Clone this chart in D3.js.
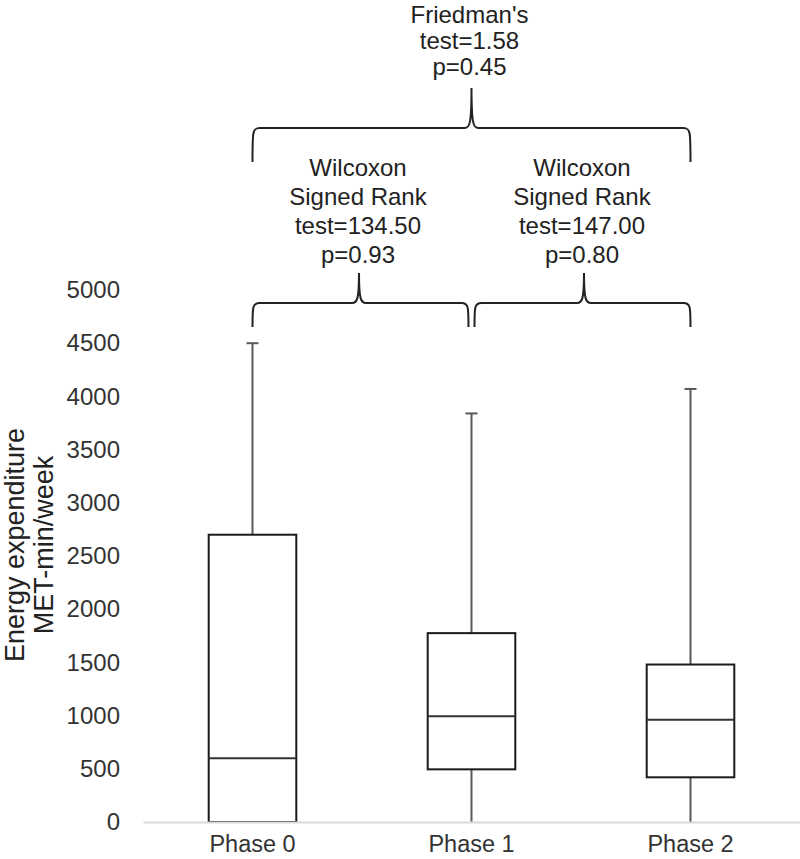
<!DOCTYPE html>
<html>
<head>
<meta charset="utf-8">
<script src="https://cdn.jsdelivr.net/npm/d3@7"></script>
<style>
  html, body { margin: 0; padding: 0; background: #fff; }
  svg { display: block; font-family: "Liberation Sans", Arial, sans-serif; }
</style>
</head>
<body>
<svg id="chart" width="800" height="859"></svg>
<script>
// ---- data ----
const categories = ["Phase 0", "Phase 1", "Phase 2"];
const whiskerLow = [0, 0, 0];
const q1 = [0, 495, 420];
const median = [600, 995, 960];
const q3 = [2700, 1775, 1480];
const whiskerHigh = [4500, 3840, 4070];
const yTicks = [0, 500, 1000, 1500, 2000, 2500, 3000, 3500, 4000, 4500, 5000];
const yTitle = ["Energy expenditure", "MET-min/week"];
const overallTest = ["Friedman's", "test=1.58", "p=0.45"];
const pairTests = [
  ["Wilcoxon", "Signed Rank", "test=134.50", "p=0.93"],
  ["Wilcoxon", "Signed Rank", "test=147.00", "p=0.80"]
];

// ---- layout ----
const svg = d3.select("#chart");
const plotLeft = 143, plotRight = 800, yBottom = 822, yTop = 290;

const x = d3.scaleBand().domain(categories).range([plotLeft, plotRight]).paddingInner(0).paddingOuter(0);
const y = d3.scaleLinear().domain([0, 5000]).range([yBottom, yTop]);
const boxW = x.bandwidth() * 0.4;
const cx = c => x(c) + x.bandwidth() / 2;

// y tick labels (no axis line)
const yAxis = d3.axisLeft(y).tickValues(yTicks).tickSize(0).tickPadding(0).tickFormat(d3.format("d"));
const yg = svg.append("g").attr("transform", `translate(120,0)`).call(yAxis);
yg.select(".domain").remove();
yg.selectAll("text").attr("font-size", 24).attr("fill", "#333")
  .attr("font-family", "Liberation Sans, Arial, sans-serif");

// y title
const yt = svg.append("text").attr("transform", "translate(2,545) rotate(-90)")
  .attr("text-anchor", "middle").attr("font-size", 27).attr("fill", "#222");
yTitle.forEach((t, i) => yt.append("tspan").attr("x", 0).attr("y", 22 + i * 29).text(t));

// boxes
const boxes = svg.append("g");
categories.forEach((c, i) => {
  const xc = cx(c);
  const g = boxes.append("g");
  g.append("line").attr("x1", xc).attr("x2", xc).attr("y1", y(q3[i])).attr("y2", y(whiskerHigh[i]))
    .attr("stroke", "#595959").attr("stroke-width", 2);
  g.append("line").attr("x1", xc).attr("x2", xc).attr("y1", y(q1[i])).attr("y2", y(whiskerLow[i]))
    .attr("stroke", "#595959").attr("stroke-width", 2);
  g.append("line").attr("x1", xc - 6).attr("x2", xc + 6).attr("y1", y(whiskerHigh[i])).attr("y2", y(whiskerHigh[i]))
    .attr("stroke", "#595959").attr("stroke-width", 2);
  g.append("rect").attr("x", xc - boxW / 2).attr("width", boxW)
    .attr("y", y(q3[i])).attr("height", y(q1[i]) - y(q3[i]))
    .attr("fill", "none").attr("stroke", "#1a1a1a").attr("stroke-width", 2);
  g.append("line").attr("x1", xc - boxW / 2).attr("x2", xc + boxW / 2)
    .attr("y1", y(median[i])).attr("y2", y(median[i]))
    .attr("stroke", "#333").attr("stroke-width", 2);
});

// x axis line + labels (drawn over the boxes)
const xAxis = d3.axisBottom(x).tickSize(0).tickPadding(0);
const xg = svg.append("g").attr("transform", `translate(0,${yBottom})`).call(xAxis);
xg.select(".domain").attr("stroke", "#d9d9d9").attr("stroke-width", 2);
xg.selectAll("text").attr("font-size", 23.5).attr("fill", "#333")
  .attr("dy", 0).attr("y", 30)
  .attr("font-family", "Liberation Sans, Arial, sans-serif");

// curly brace
function brace(x0, x1, xm, yLine, yPeak, yEnd) {
  const r = 7;
  return `M${x0},${yEnd} C${x0},${yLine + 4} ${x0},${yLine} ${x0 + r},${yLine}` +
    ` L${xm - r},${yLine} C${xm - 2},${yLine} ${xm},${yLine - 3} ${xm},${yPeak}` +
    ` C${xm},${yLine - 3} ${xm + 2},${yLine} ${xm + r},${yLine}` +
    ` L${x1 - r},${yLine} C${x1},${yLine} ${x1},${yLine + 4} ${x1},${yEnd}`;
}
const ann = svg.append("g").attr("fill", "none").attr("stroke", "#222").attr("stroke-width", 2);

const c0 = cx(categories[0]), c1 = cx(categories[1]), c2 = cx(categories[2]);
ann.append("path").attr("d", brace(c0, c2, (c0 + c2) / 2, 128, 88, 162));
ann.append("path").attr("d", brace(c0, c1 - 3, (c0 + c1) / 2 - 3, 303, 273, 327));
ann.append("path").attr("d", brace(c1 + 3, c2, (c1 + c2) / 2 + 3, 303, 273, 327));

// texts
const txt = svg.append("g").attr("font-size", 24).attr("fill", "#222").attr("text-anchor", "middle");
overallTest.forEach((t, i) => txt.append("text").attr("x", (c0 + c2) / 2 - 2).attr("y", 23 + i * 26).text(t));
pairTests.forEach((lines, k) => {
  const xm = k === 0 ? (c0 + c1) / 2 - 4 : (c1 + c2) / 2 + 1;
  lines.forEach((t, i) => txt.append("text").attr("x", xm).attr("y", 176 + i * 29).text(t));
});
</script>
</body>
</html>
